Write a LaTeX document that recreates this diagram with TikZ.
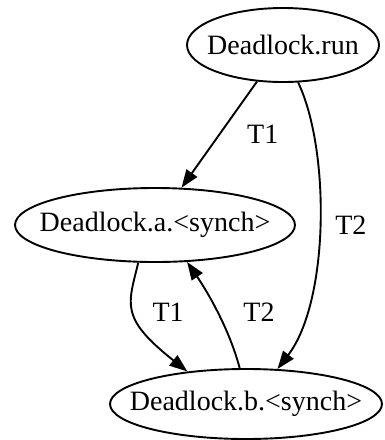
\documentclass[tikz,border=0pt]{standalone}
\usepackage{fontspec}
\setmainfont{Liberation Serif}
\usetikzlibrary{shapes.geometric,arrows.meta,positioning}
\begin{document}
\begin{tikzpicture}[x=1pt, y=-1pt]
	\tikzset{n/.style={draw=black, ellipse, line width=1.9pt, inner xsep=-30pt, inner ysep=0pt, minimum height=74pt, font=\fontsize{28}{34}\selectfont},
	f/.style={-{Triangle[length=18pt, width=13pt]}, line width=1.9pt},
	l/.style={inner sep=0pt, font=\fontsize{28}{34}\selectfont}};
	\useasboundingbox (0,0) rectangle (385,440);

	\node[n, minimum width=192pt] (run) at (283,45) {Deadlock.run};
	\node[n, minimum width=280pt] (a) at (155,225) {Deadlock.a.<synch>};
	\node[n, minimum width=272pt, minimum height=70pt] (b) at (246,404) {Deadlock.b.<synch>};

	\draw[f] (run) -- (a) node[l, pos=.5, right=27pt] {T1};
	\draw[f] (run.-68) .. controls +(32,67) and +(52,-68) .. (b.48) node[l, pos=.5, right=15pt] {T2};
	\draw[f] (a.-114) .. controls +(-10,42) and +(-68,-54) .. (b.151) node[l, pos=.5, right=18pt] {T1};
	\draw[f] (b.100) .. controls +(-12,-45) and +(15,22) .. (a.-49) node[l, pos=.5, right=28pt, yshift=-6pt] {T2};
\end{tikzpicture}
\end{document}
